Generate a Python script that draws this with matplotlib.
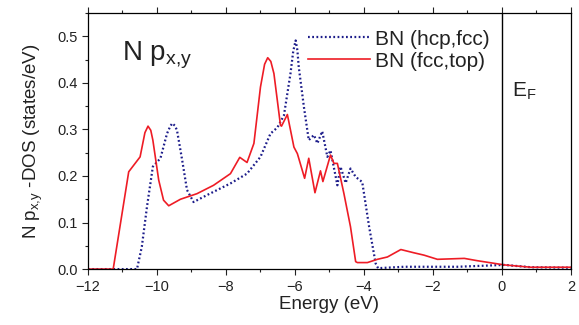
import matplotlib
matplotlib.use("Agg")
import matplotlib.pyplot as plt
from matplotlib.ticker import MultipleLocator

plt.rcParams['font.family'] = ['Liberation Sans', 'DejaVu Sans']
plt.rcParams['mathtext.default'] = 'regular'

# BN (hcp,fcc) - blue dotted
e_hcp = [-12.0, -10.58, -10.44, -10.29, -10.12, -9.90, -9.71, -9.62, -9.56, -9.48, -9.42,
         -9.27, -9.13, -8.94, -8.55, -7.87, -7.39, -7.0, -6.71, -6.51, -6.32, -6.13,
         -6.05, -5.98, -5.93, -5.89, -5.74, -5.60, -5.45, -5.35, -5.21, -5.06, -4.97,
         -4.77, -4.68, -4.53, -4.39, -4.24, -4.05, -3.85, -3.66, -3.59, -2.84, -1.29,
         0.07, 0.84, 2.0]
d_hcp = [0.0, 0.0, 0.048, 0.134, 0.220, 0.238, 0.291, 0.306, 0.313, 0.308, 0.298,
         0.234, 0.170, 0.144, 0.159, 0.184, 0.205, 0.241, 0.291, 0.304, 0.330, 0.420,
         0.468, 0.491, 0.470, 0.434, 0.348, 0.277, 0.288, 0.270, 0.296, 0.241, 0.255,
         0.180, 0.220, 0.185, 0.216, 0.198, 0.187, 0.091, 0.012, 0.002, 0.005, 0.005,
         0.009, 0.004, 0.003]

# BN (fcc,top) - red solid
e_top = [-12.0, -11.27, -10.82, -10.49, -10.35, -10.26, -10.18, -10.12, -9.95, -9.81,
         -9.66, -9.32, -8.84, -8.36, -7.87, -7.60, -7.39, -7.19, -7.0, -6.88, -6.79,
         -6.70, -6.61, -6.42, -6.39, -6.22, -6.03, -5.93, -5.72, -5.60, -5.42, -5.26,
         -5.19, -4.97, -4.87, -4.77, -4.58, -4.39, -4.24, -4.19, -3.90, -3.61, -3.32,
         -2.93, -2.55, -2.26, -1.87, -1.09, -0.71, 0.07, 0.84, 2.0]
d_top = [0.0, 0.0, 0.209, 0.241, 0.293, 0.307, 0.298, 0.277, 0.191, 0.148,
         0.136, 0.150, 0.162, 0.180, 0.205, 0.240, 0.229, 0.270, 0.391, 0.440, 0.454,
         0.446, 0.420, 0.309, 0.307, 0.332, 0.262, 0.248, 0.195, 0.238, 0.164, 0.211,
         0.188, 0.245, 0.227, 0.227, 0.162, 0.091, 0.016, 0.014, 0.014, 0.021, 0.026,
         0.042, 0.035, 0.030, 0.021, 0.023, 0.018, 0.009, 0.004, 0.004]

fig = plt.figure(figsize=(5.79, 3.25), dpi=100)
ax = fig.add_axes([0.152, 0.172, 0.834, 0.788])

ax.plot(e_hcp, d_hcp, color='#1c1c8a', lw=1.6, linestyle=(0, (0.8, 1.1)),
        label='BN (hcp,fcc)')
ax.plot(e_top, d_top, color='#ee1c25', lw=1.2, label='BN (fcc,top)')
ax.axvline(0, color='black', lw=1.0)

ax.set_xlim(-12, 2)
ax.set_ylim(0, 0.55)
ax.xaxis.set_major_locator(MultipleLocator(2))
ax.xaxis.set_minor_locator(MultipleLocator(1))
ax.yaxis.set_major_locator(MultipleLocator(0.1))
ax.yaxis.set_minor_locator(MultipleLocator(0.05))
ax.yaxis.set_major_formatter(matplotlib.ticker.FormatStrFormatter('%.1f'))
ax.tick_params(which='both', direction='out', top=True, right=False, labelsize=10.5,
               colors='#222222', labelcolor='#222222')
ax.tick_params(which='major', length=4, width=0.8)
ax.tick_params(which='minor', length=2.5, width=0.8)
for s in ax.spines.values():
    s.set_linewidth(0.9)

ax.set_xlabel('Energy (eV)', fontsize=13.5, color='#222222', labelpad=2)
ax.set_ylabel('N p$_{x{,}y}$ -DOS (states/eV)', fontsize=13.5, color='#222222',
              labelpad=9)

ax.text(0.070, 0.814, 'N p$_{x{,}y}$', transform=ax.transAxes, fontsize=20,
        color='#222222', va='baseline', ha='left')
ax.text((511.7 - 88) / 483, (269 - 96.7) / 256, 'E$_F$',
        transform=ax.transAxes, fontsize=15, color='#222222', va='baseline', ha='left')

leg = ax.legend(loc='upper left', bbox_to_anchor=(0.455, 0.935), frameon=False,
                fontsize=15, handlelength=3.0, handletextpad=0.25, borderpad=0,
                borderaxespad=0, labelspacing=0.15)
for t in leg.get_texts():
    t.set_color('#222222')

fig.savefig('out.png', dpi=100)
